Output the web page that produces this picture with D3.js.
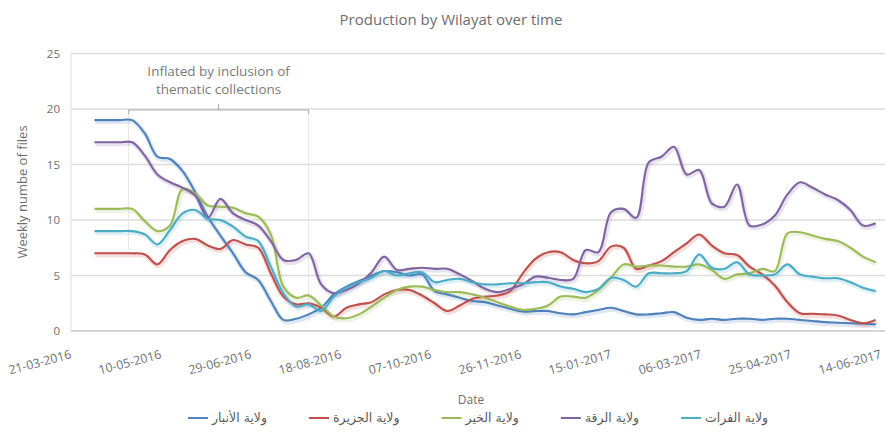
<!DOCTYPE html>
<html>
<head>
<meta charset="utf-8">
<script src="https://cdn.jsdelivr.net/npm/d3@7/dist/d3.min.js"></script>
<style>
  html, body { margin: 0; padding: 0; background: #ffffff; }
  svg { display: block; }
  text { font-family: "Open Sans", "DejaVu Sans", sans-serif; }
</style>
</head>
<body>
<svg id="chart" width="885" height="436"></svg>
<script>
// ---------------- DATA ----------------
const startDate = "2016-04-03";          // first weekly observation
const weekCount = 63;                    // weekly points

const seriesNames = ["ولاية الأنبار", "ولاية الجزيرة", "ولاية الخير", "ولاية الرقة", "ولاية الفرات"];

const anbar = [19, 19, 19, 19.0, 17.8, 15.7, 15.5, 14.4, 12.5, 10.3, 8.6, 7.0, 5.3, 4.6, 2.7, 1.0,
  1.1, 1.5, 2.1, 3.3, 4.0, 4.5, 5.0, 5.4, 5.3, 5.0, 5.1, 3.6, 3.3, 3.0, 2.7, 2.6, 2.3, 2.0, 1.75,
  1.8, 1.8, 1.6, 1.5, 1.7, 1.9, 2.1, 1.8, 1.5, 1.5, 1.6, 1.7, 1.2, 1.0, 1.1, 1.0, 1.1, 1.1, 1.0,
  1.1, 1.1, 1.0, 0.9, 0.8, 0.75, 0.7, 0.65, 0.6];

const jazira = [7, 7, 7, 7.0, 6.9, 6.0, 7.3, 8.1, 8.3, 7.7, 7.4, 8.2, 7.8, 7.5, 5.2, 3.1,
  2.4, 2.5, 2.1, 1.3, 2.1, 2.4, 2.6, 3.3, 3.7, 3.7, 3.2, 2.5, 1.8, 2.3, 2.9, 3.1, 3.2, 3.6, 5.2,
  6.5, 7.1, 7.1, 6.4, 6.1, 6.3, 7.6, 7.5, 5.6, 5.9, 6.3, 7.1, 7.9, 8.7, 7.7, 7.0, 6.85, 5.8, 5.1,
  4.1, 2.6, 1.6, 1.55, 1.5, 1.4, 1.0, 0.7, 1.0];

const khair = [11, 11, 11, 11.0, 9.9, 9.0, 9.5, 12.8, 12.4, 11.3, 11.2, 11.1, 10.6, 10.3, 8.7, 4.0,
  3.0, 3.2, 2.3, 1.3, 1.15, 1.5, 2.2, 3.0, 3.7, 4.0, 4.0, 3.7, 3.5, 3.5, 3.3, 3.0, 2.6, 2.2, 1.9,
  2.0, 2.3, 3.1, 3.1, 3.0, 3.7, 4.8, 6.0, 5.8, 5.9, 5.9, 5.8, 5.8, 6.0, 5.5, 4.7, 5.1, 5.2, 5.6,
  5.4, 8.8, 8.9, 8.6, 8.3, 8.1, 7.5, 6.7, 6.2];

const raqqa = [17, 17, 17, 17.0, 15.8, 14.1, 13.4, 12.9, 12.2, 10.2, 11.9, 10.6, 10.0, 9.5, 8.1, 6.4,
  6.4, 7.0, 4.2, 3.4, 3.7, 4.3, 5.3, 6.7, 5.5, 5.6, 5.7, 5.6, 5.6, 5.1, 4.5, 3.8, 3.5, 3.8, 4.2,
  4.9, 4.8, 4.6, 4.7, 7.3, 7.1, 10.7, 11.0, 10.2, 15.2, 15.7, 16.6, 14.1, 14.5, 11.5, 11.2, 13.2, 9.5, 9.6,
  10.4, 12.3, 13.4, 12.9, 12.3, 11.8, 10.9, 9.5, 9.7];

const furat = [9, 9, 9, 9.0, 8.7, 7.8, 9.1, 10.6, 10.9, 10.1, 10.0, 9.4, 8.5, 8.1, 5.8, 3.4,
  2.2, 2.4, 1.8, 3.1, 3.9, 4.4, 4.8, 5.4, 5.0, 5.2, 5.3, 4.4, 4.6, 4.7, 4.4, 4.2, 4.2, 4.3, 4.3,
  4.4, 4.4, 4.0, 3.8, 3.5, 3.8, 4.8, 4.6, 4.0, 5.2, 5.2, 5.2, 5.4, 6.9, 5.7, 5.6, 6.2, 5.1, 5.0,
  5.1, 6.0, 5.1, 4.9, 4.75, 4.75, 4.4, 3.9, 3.6];

const seriesValues = [anbar, jazira, khair, raqqa, furat];
const seriesColors = ["#4f81bd", "#c0504d", "#9bbb59", "#8064a2", "#4bacc6"];

const xTickLabels = ["21-03-2016", "10-05-2016", "29-06-2016", "18-08-2016", "07-10-2016",
  "26-11-2016", "15-01-2017", "06-03-2017", "25-04-2017", "14-06-2017"];
const yTicks = [0, 5, 10, 15, 20, 25];

const titleText = "Production by Wilayat over time";
const xTitle = "Date";
const yTitle = "Weekly numbe of files";
const noteLines = ["Inflated by inclusion of", "thematic collections"];
const noteStart = "2016-04-22";
const noteEnd = "2016-07-31";

// ---------------- CHART ----------------
const svg = d3.select("#chart");
const parseDMY = d3.utcParse("%d-%m-%Y");
const parseISO = d3.utcParse("%Y-%m-%d");

const plotL = 71, plotR = 881, plotT = 53.5, plotB = 331;

const x = d3.scaleUtc()
  .domain([parseDMY(xTickLabels[0]), parseDMY(xTickLabels[xTickLabels.length - 1])])
  .range([plotL, plotR]);
const y = d3.scaleLinear().domain([0, 25]).range([plotB, plotT]);

const dates = d3.range(weekCount).map(i => d3.utcDay.offset(parseISO(startDate), 7 * i));

// gridlines
svg.append("g").selectAll("line").data(yTicks.filter(t => t > 0)).join("line")
  .attr("x1", plotL).attr("x2", 885)
  .attr("y1", d => y(d)).attr("y2", d => y(d))
  .attr("stroke", "#dcdcdc").attr("stroke-width", 1.3);

// axes lines
svg.append("line").attr("x1", plotL).attr("x2", plotL).attr("y1", y(25)).attr("y2", y(0))
  .attr("stroke", "#e2e2e2").attr("stroke-width", 1.2);
svg.append("line").attr("x1", plotL).attr("x2", 885).attr("y1", y(0)).attr("y2", y(0))
  .attr("stroke", "#c8c8c8").attr("stroke-width", 1.3);

// y tick labels
const yAxis = d3.axisLeft(y).tickValues(yTicks).tickSize(0).tickPadding(0);
const gy = svg.append("g").attr("transform", `translate(${plotL - 11},0)`).call(yAxis);
gy.select(".domain").remove();
gy.selectAll("text").attr("fill", "#6e6e6e").style("font-size", "11.5px")
  .style("font-family", "Open Sans, sans-serif");

// x tick labels
const xTickDates = xTickLabels.map(parseDMY);
svg.append("g").selectAll("text").data(xTickDates).join("text")
  .attr("transform", d => `translate(${x(d) + 1},358) rotate(-15)`)
  .attr("text-anchor", "end")
  .attr("fill", "#6e6e6e").style("font-size", "12.3px")
  .text((d, i) => xTickLabels[i]);

// annotation bracket
const nx1 = x(parseISO(noteStart)), nx2 = x(parseISO(noteEnd));
const nmid = (nx1 + nx2) / 2;
svg.append("line").attr("x1", nx1).attr("x2", nx1).attr("y1", 110).attr("y2", 250)
  .attr("stroke", "#e6e6e6").attr("stroke-width", 1);
svg.append("line").attr("x1", nx2).attr("x2", nx2).attr("y1", 110).attr("y2", 322)
  .attr("stroke", "#e6e6e6").attr("stroke-width", 1);
svg.append("path")
  .attr("d", `M${nx1},114 L${nx1},110 L${nx2},110 L${nx2},114 M${nmid},110 L${nmid},104`)
  .attr("fill", "none").attr("stroke", "#a9a9a9").attr("stroke-width", 1);
svg.append("g").selectAll("text").data(noteLines).join("text")
  .attr("x", nmid).attr("y", (d, i) => 76 + i * 17.5)
  .attr("text-anchor", "middle").attr("fill", "#7a7a7a").style("font-size", "13.5px")
  .text(d => d);

// lines
const line = d3.line()
  .x((d, i) => x(dates[i]))
  .y(d => y(d))
  .curve(d3.curveCatmullRom.alpha(0.5));

const gLines = svg.append("g");
seriesValues.forEach((vals, k) => {
  gLines.append("path").datum(vals)
    .attr("d", line).attr("fill", "none")
    .attr("stroke", seriesColors[k]).attr("stroke-opacity", 0.18)
    .attr("stroke-width", 5).attr("transform", "translate(1,1.5)");
});
seriesValues.forEach((vals, k) => {
  gLines.append("path").datum(vals)
    .attr("d", line).attr("fill", "none")
    .attr("stroke", seriesColors[k]).attr("stroke-width", 2.1)
    .attr("stroke-linejoin", "round");
});

// title
svg.append("text").attr("x", 451).attr("y", 25).attr("text-anchor", "middle")
  .attr("fill", "#6e6e6e").style("font-size", "15px").text(titleText);

// axis titles
svg.append("text").attr("x", 471).attr("y", 404).attr("text-anchor", "middle")
  .attr("fill", "#6e6e6e").style("font-size", "12px").text(xTitle);
svg.append("text").attr("transform", "translate(27,192) rotate(-90)").attr("text-anchor", "middle")
  .attr("fill", "#6e6e6e").style("font-size", "13px").text(yTitle);

// legend
const legend = svg.append("g");
let lx = 188;
seriesNames.forEach((name, k) => {
  const g = legend.append("g").attr("transform", `translate(${lx},0)`);
  g.append("line").attr("x1", 0).attr("x2", 20).attr("y1", 418).attr("y2", 418)
    .attr("stroke", seriesColors[k]).attr("stroke-width", 2);
  const t = g.append("text").attr("x", 24).attr("y", 422)
    .attr("fill", "#5a5a5a").style("font-size", "12.5px")
    .style("font-family", "DejaVu Sans, sans-serif")
    .attr("text-anchor", "start")
    .text(name);
  const w = t.node().getComputedTextLength();
  lx += 24 + w + 42;
});
</script>
</body>
</html>
